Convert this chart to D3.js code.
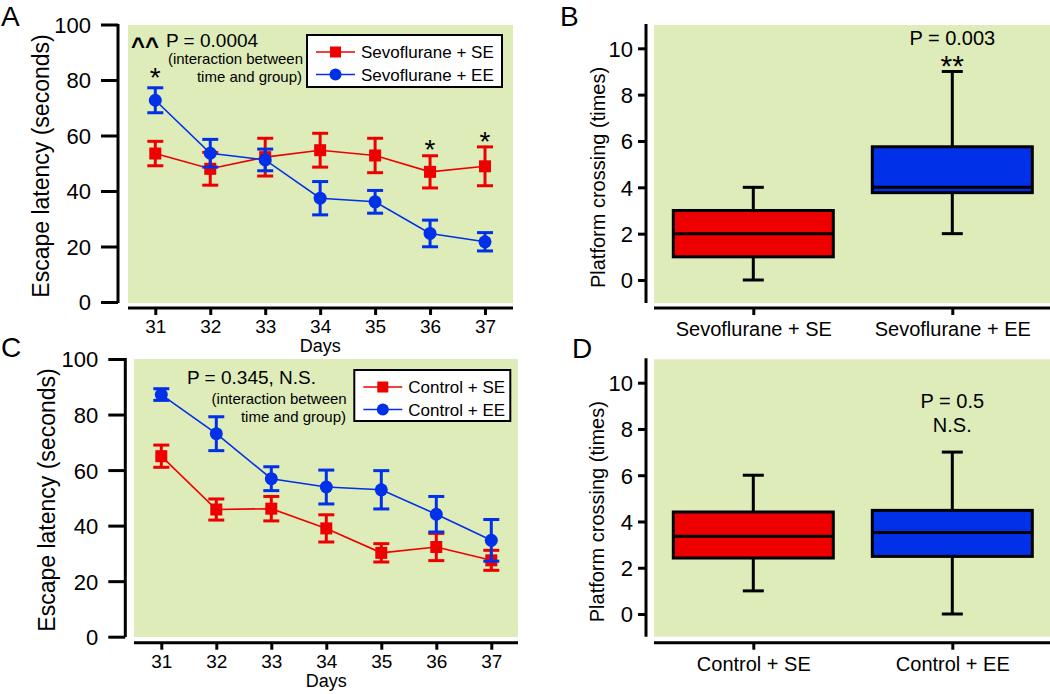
<!DOCTYPE html>
<html>
<head>
<meta charset="utf-8">
<script src="https://cdn.jsdelivr.net/npm/d3@7"></script>
<style>
  body { margin: 0; background: #fff; }
  svg text { font-family: "Liberation Sans", Arial, sans-serif; fill: #000; }
</style>
</head>
<body>
<svg id="fig" width="1050" height="694"></svg>
<script>
// ---- data ----
var days = [31, 32, 33, 34, 35, 36, 37];
var latencyTicks = [0, 20, 40, 60, 80, 100];
var crossingTicks = [0, 2, 4, 6, 8, 10];

// panel A: sevoflurane groups (mean, SEM)
var sevoSEMean = [53.5, 48.0, 52.2, 54.7, 52.8, 46.9, 48.9];
var sevoSEErr  = [4.4, 5.9, 6.8, 6.1, 6.2, 5.8, 7.0];
var sevoEEMean = [72.7, 53.6, 51.2, 37.4, 36.1, 24.7, 21.7];
var sevoEEErr  = [4.5, 5.0, 3.9, 6.0, 4.1, 4.8, 3.3];

// panel C: control groups
var ctrlSEMean = [65.0, 45.8, 46.1, 39.0, 30.2, 32.3, 27.5];
var ctrlSEErr  = [4.0, 3.8, 4.4, 4.9, 3.3, 4.9, 3.6];
var ctrlEEMean = [87.2, 73.1, 56.9, 53.9, 52.9, 44.1, 34.7];
var ctrlEEErr  = [2.1, 6.1, 4.3, 6.1, 6.9, 6.4, 7.5];

// panels B and D: box plot stats [min, q1, median, q3, max]
var sevoBoxLabels = ["Sevoflurane + SE", "Sevoflurane + EE"];
var sevoBoxStats = [[0, 1, 2, 3, 4], [2, 3.77, 4.0, 5.75, 9]];
var ctrlBoxLabels = ["Control + SE", "Control + EE"];
var ctrlBoxStats = [[1, 2.42, 3.36, 4.41, 6], [0, 2.49, 3.52, 4.48, 7]];

var RED = "#EE0000", BLUE = "#0030E8", BG = "#DEECBA";

var svg = d3.select("#fig");

/*
------------------------
METHOD: line chart with error bars (panels A and C)
------------------------
*/
function drawLinePanel(p) {
  var g = svg.append("g");
  var x = d3.scaleLinear().domain([31, 37]).range([p.x31, p.x37]);
  var y = d3.scaleLinear().domain([0, 100]).range([p.y0, p.y100]);

  g.append("rect")
    .attr("x", p.bgL).attr("y", p.bgT)
    .attr("width", p.bgR - p.bgL).attr("height", p.bgB - p.bgT)
    .attr("fill", BG);

  // y axis
  var yAxis = g.append("g")
    .attr("transform", "translate(" + p.axX + ",0)")
    .call(d3.axisLeft(y).tickValues(latencyTicks).tickSize(17).tickPadding(10));
  yAxis.select(".domain").remove();
  yAxis.selectAll("line").attr("stroke", "#000").attr("stroke-width", 3);
  yAxis.selectAll("text").style("font-size", "22px").attr("dy", "0.36em");
  g.append("line")
    .attr("x1", p.axX).attr("x2", p.axX)
    .attr("y1", p.bgT - 1).attr("y2", p.bgB)
    .attr("stroke", "#000").attr("stroke-width", 3);

  // x axis
  var xAxis = g.append("g")
    .attr("transform", "translate(0," + p.axY + ")")
    .call(d3.axisBottom(x).tickValues(days).tickSize(7).tickPadding(5).tickFormat(d3.format("d")));
  xAxis.select(".domain").remove();
  xAxis.selectAll("line").attr("stroke", "#000").attr("stroke-width", 3);
  xAxis.selectAll("text").style("font-size", "19px");
  g.append("line")
    .attr("x1", p.bgL).attr("x2", p.bgR)
    .attr("y1", p.axY).attr("y2", p.axY)
    .attr("stroke", "#000").attr("stroke-width", 3);

  g.append("text")
    .attr("x", (p.x31 + p.x37) / 2).attr("y", p.axY + 44)
    .attr("text-anchor", "middle").style("font-size", "18px")
    .text("Days");

  g.append("text")
    .attr("transform", "translate(" + p.ylabX + "," + p.ylabY + ") rotate(-90)")
    .attr("text-anchor", "middle").attr("dy", "0.35em")
    .style("font-size", "23px")
    .text("Escape latency (seconds)");

  var series = [
    { mean: p.seMean, err: p.seErr, color: RED, shape: "square" },
    { mean: p.eeMean, err: p.eeErr, color: BLUE, shape: "circle" }
  ];
  var line = d3.line().x(function(d, i) { return x(days[i]); }).y(function(d) { return y(d); });

  series.forEach(function(s) {
    var sg = g.append("g");
    sg.append("path").datum(s.mean)
      .attr("d", line).attr("fill", "none")
      .attr("stroke", s.color).attr("stroke-width", 1.6);
    var bars = sg.selectAll(".eb").data(s.mean).enter().append("g");
    bars.append("line")
      .attr("x1", function(d, i) { return x(days[i]); })
      .attr("x2", function(d, i) { return x(days[i]); })
      .attr("y1", function(d, i) { return y(d + s.err[i]); })
      .attr("y2", function(d, i) { return y(d - s.err[i]); })
      .attr("stroke", s.color).attr("stroke-width", 3);
    [1, -1].forEach(function(sign) {
      bars.append("line")
        .attr("x1", function(d, i) { return x(days[i]) - 8; })
        .attr("x2", function(d, i) { return x(days[i]) + 8; })
        .attr("y1", function(d, i) { return y(d + sign * s.err[i]); })
        .attr("y2", function(d, i) { return y(d + sign * s.err[i]); })
        .attr("stroke", s.color).attr("stroke-width", 3);
    });
    if (s.shape === "square") {
      bars.append("rect")
        .attr("x", function(d, i) { return x(days[i]) - 6; })
        .attr("y", function(d) { return y(d) - 6; })
        .attr("width", 12).attr("height", 12)
        .attr("fill", s.color);
    } else {
      bars.append("circle")
        .attr("cx", function(d, i) { return x(days[i]); })
        .attr("cy", function(d) { return y(d); })
        .attr("r", 6.5).attr("fill", s.color);
    }
  });

  // legend
  var lg = g.append("g");
  lg.append("rect")
    .attr("x", p.lgX).attr("y", p.lgY)
    .attr("width", p.lgW).attr("height", p.lgH)
    .attr("fill", "#fff").attr("stroke", "#000").attr("stroke-width", 2);
  p.legend.forEach(function(name, i) {
    var ry = p.lgY + 17 + i * 22.5;
    var col = i === 0 ? RED : BLUE;
    lg.append("line")
      .attr("x1", p.lgX + 9).attr("x2", p.lgX + 48)
      .attr("y1", ry).attr("y2", ry)
      .attr("stroke", col).attr("stroke-width", 1.6);
    if (i === 0) {
      lg.append("rect").attr("x", p.lgX + 23).attr("y", ry - 5.5)
        .attr("width", 11).attr("height", 11).attr("fill", col);
    } else {
      lg.append("circle").attr("cx", p.lgX + 28.5).attr("cy", ry)
        .attr("r", 6).attr("fill", col);
    }
    lg.append("text")
      .attr("x", p.lgX + 54).attr("y", ry + 6)
      .style("font-size", "17px")
      .text(name);
  });

  // annotation
  p.notes.forEach(function(n) {
    g.append("text")
      .attr("x", n.x).attr("y", n.y)
      .attr("text-anchor", n.anchor || "start")
      .style("font-size", n.size + "px")
      .style("font-weight", n.bold ? "bold" : "normal")
      .text(n.t);
  });

  // significance stars
  (p.stars || []).forEach(function(s) {
    g.append("text")
      .attr("x", x(s.day)).attr("y", y(s.v))
      .attr("text-anchor", "middle")
      .style("font-size", "28px")
      .text("*");
  });
}

/*
------------------------
METHOD: box plot panel (panels B and D)
------------------------
*/
function drawBoxPanel(p) {
  var g = svg.append("g");
  var y = d3.scaleLinear().domain([0, 10]).range([p.y0, p.y10]);
  var x = d3.scalePoint().domain(p.labels).range([p.xa, p.xb]);

  g.append("rect")
    .attr("x", p.bgL).attr("y", p.bgT)
    .attr("width", p.bgR - p.bgL).attr("height", p.bgB - p.bgT)
    .attr("fill", BG);

  var yAxis = g.append("g")
    .attr("transform", "translate(" + p.axX + ",0)")
    .call(d3.axisLeft(y).tickValues(crossingTicks).tickSize(8).tickPadding(5));
  yAxis.select(".domain").remove();
  yAxis.selectAll("line").attr("stroke", "#000").attr("stroke-width", 3);
  yAxis.selectAll("text").style("font-size", "22px").attr("dy", "0.36em");
  g.append("line")
    .attr("x1", p.axX).attr("x2", p.axX)
    .attr("y1", p.bgT - 1).attr("y2", p.bgB)
    .attr("stroke", "#000").attr("stroke-width", 3);

  var xAxis = g.append("g")
    .attr("transform", "translate(0," + p.axY + ")")
    .call(d3.axisBottom(x).tickSize(7).tickPadding(7));
  xAxis.select(".domain").remove();
  xAxis.selectAll("line").attr("stroke", "#000").attr("stroke-width", 3);
  xAxis.selectAll("text").style("font-size", "20px");
  g.append("line")
    .attr("x1", p.bgL).attr("x2", p.bgR)
    .attr("y1", p.axY).attr("y2", p.axY)
    .attr("stroke", "#000").attr("stroke-width", 3);

  g.append("text")
    .attr("transform", "translate(" + p.ylabX + "," + p.ylabY + ") rotate(-90)")
    .attr("text-anchor", "middle").attr("dy", "0.35em")
    .style("font-size", "20px")
    .text("Platform crossing (times)");

  var half = 80, cap = 10.5;
  p.stats.forEach(function(s, i) {
    var cx = x(p.labels[i]);
    var col = i === 0 ? RED : BLUE;
    g.append("line").attr("x1", cx).attr("x2", cx)
      .attr("y1", y(s[0])).attr("y2", y(s[4]))
      .attr("stroke", "#000").attr("stroke-width", 3);
    [s[0], s[4]].forEach(function(v) {
      g.append("line").attr("x1", cx - cap).attr("x2", cx + cap)
        .attr("y1", y(v)).attr("y2", y(v))
        .attr("stroke", "#000").attr("stroke-width", 3);
    });
    g.append("rect")
      .attr("x", cx - half).attr("y", y(s[3]))
      .attr("width", 2 * half).attr("height", y(s[1]) - y(s[3]))
      .attr("fill", col).attr("stroke", "#000").attr("stroke-width", 3);
    g.append("line").attr("x1", cx - half).attr("x2", cx + half)
      .attr("y1", y(s[2])).attr("y2", y(s[2]))
      .attr("stroke", "#000").attr("stroke-width", 3);
  });

  p.notes.forEach(function(n) {
    g.append("text")
      .attr("x", x(p.labels[1])).attr("y", n.y)
      .attr("text-anchor", "middle")
      .style("font-size", n.size + "px")
      .text(n.t);
  });
}

drawLinePanel({
  x31: 155.3, x37: 485, y0: 302, y100: 24.5,
  bgL: 128, bgR: 513, bgT: 25, bgB: 303, axX: 118, axY: 308,
  ylabX: 41, ylabY: 166,
  seMean: sevoSEMean, seErr: sevoSEErr, eeMean: sevoEEMean, eeErr: sevoEEErr,
  legend: ["Sevoflurane + SE", "Sevoflurane + EE"],
  lgX: 307, lgY: 35, lgW: 195, lgH: 52,
  notes: [
    { t: "^^", x: 131, y: 54, size: 24, bold: true },
    { t: "P = 0.0004", x: 166, y: 47, size: 19 },
    { t: "(interaction between", x: 303, y: 64, anchor: "end", size: 15 },
    { t: "time and group)", x: 302, y: 82, anchor: "end", size: 15 }
  ],
  stars: [{ day: 31, v: 77.5 }, { day: 36, v: 51.5 }, { day: 37, v: 54.5 }]
});

drawLinePanel({
  x31: 161.3, x37: 491.3, y0: 636.7, y100: 359,
  bgL: 134, bgR: 518, bgT: 359, bgB: 637, axX: 125.3, axY: 642.7,
  ylabX: 46.7, ylabY: 500,
  seMean: ctrlSEMean, seErr: ctrlSEErr, eeMean: ctrlEEMean, eeErr: ctrlEEErr,
  legend: ["Control + SE", "Control + EE"],
  lgX: 354.3, lgY: 370, lgW: 156, lgH: 51,
  notes: [
    { t: "P = 0.345, N.S.", x: 187, y: 384, size: 19 },
    { t: "(interaction between", x: 346.7, y: 403.5, anchor: "end", size: 15 },
    { t: "time and group)", x: 346, y: 421.5, anchor: "end", size: 15 }
  ],
  stars: []
});

drawBoxPanel({
  y0: 280, y10: 48.3, xa: 753.3, xb: 952.3,
  bgL: 654, bgR: 1050, bgT: 25, bgB: 303, axX: 646, axY: 308,
  ylabX: 597.5, ylabY: 177.5,
  labels: sevoBoxLabels, stats: sevoBoxStats,
  notes: [{ t: "P = 0.003", y: 44.5, size: 20 }, { t: "**", y: 76, size: 30 }]
});

drawBoxPanel({
  y0: 614, y10: 382.7, xa: 753.3, xb: 952.3,
  bgL: 654, bgR: 1050, bgT: 359.3, bgB: 636.7, axX: 646, axY: 642.7,
  ylabX: 596.7, ylabY: 511.7,
  labels: ctrlBoxLabels, stats: ctrlBoxStats,
  notes: [{ t: "P = 0.5", y: 408, size: 20 }, { t: "N.S.", y: 432, size: 20 }]
});

// panel letters
[["A", 1, 26], ["B", 560, 26], ["C", 1, 357], ["D", 572, 358]].forEach(function(l) {
  svg.append("text").attr("x", l[1]).attr("y", l[2])
    .style("font-size", "28px").text(l[0]);
});
</script>
</body>
</html>
